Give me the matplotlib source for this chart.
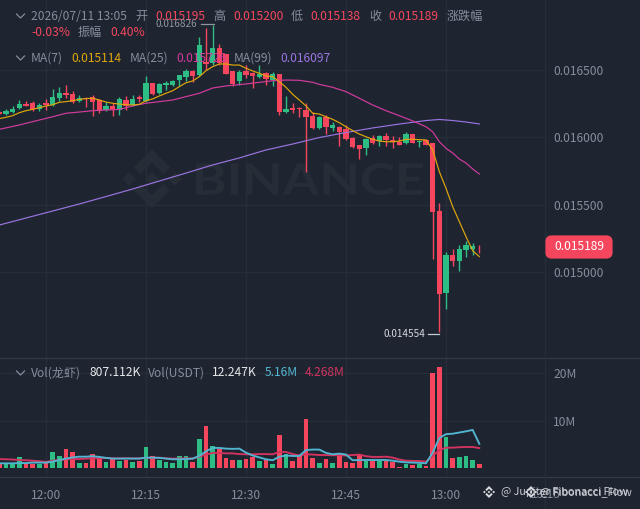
import numpy as np
import matplotlib
matplotlib.use("Agg")
import matplotlib.pyplot as plt
from matplotlib.patches import FancyBboxPatch, Polygon, PathPatch, Rectangle
from matplotlib.textpath import TextPath
from matplotlib.font_manager import FontProperties
from matplotlib.transforms import Affine2D

plt.rcParams['font.family'] = ['Noto Sans CJK SC', 'DejaVu Sans']

# minutes after 12:00, prices in millionths
minutes = list(range(-7, 66))
opens = [16185,16170,16187,16215,16244,16250,16207,16252,16239,16289,16324,16319,16267,16287,16296,16272,16200,16230,16202,16274,16237,16294,16269,16398,16324,16387,16385,16420,16447,16491,16459,16556,16546,16662,16613,16489,16415,16489,16472,16444,16472,16422,16467,16188,16215,16217,16200,16156,16065,16146,16069,16072,16057,15993,15943,15916,15993,15970,16007,15978,15965,15953,16022,15961,15978,15953,15452,14842,15126,15082,15163,15168,15195]
highs = [16196,16210,16230,16274,16267,16269,16250,16282,16353,16368,16385,16341,16311,16299,16311,16279,16257,16250,16299,16304,16311,16314,16454,16402,16398,16413,16422,16462,16504,16496,16744,16807,16826,16687,16615,16489,16496,16533,16484,16533,16484,16479,16467,16304,16250,16222,16250,16187,16156,16163,16113,16082,16089,15998,15943,15993,16015,16013,16027,16007,15998,16037,16022,15978,15987,15956,15513,15150,15170,15202,15232,15213,15200]
lows = [16163,16161,16180,16205,16230,16195,16190,16200,16232,16269,16289,16250,16257,16220,16158,16180,16190,16158,16163,16200,16230,16259,16262,16309,16319,16348,16378,16378,16413,16410,16452,16496,16533,16533,16463,16380,16385,16439,16365,16435,16385,16380,16163,16178,16176,16146,15741,16059,16059,16022,16042,15933,15978,15919,15837,15869,15948,15933,15933,15919,15939,15948,15953,15928,15939,15099,14554,14726,15047,15010,15109,15126,15138]
closes = [16170,16195,16210,16247,16232,16205,16237,16237,16296,16328,16311,16257,16289,16279,16262,16190,16230,16198,16279,16230,16282,16279,16402,16316,16395,16402,16415,16457,16491,16452,16685,16541,16662,16546,16465,16390,16484,16459,16454,16464,16430,16467,16183,16210,16202,16205,16148,16065,16150,16072,16089,16037,15985,15924,15913,15987,15958,16007,15978,15963,15943,16022,15958,15973,15943,15447,14837,15126,15084,15168,15198,15195,15189]

ma7 = [16136,16146,16158,16180,16195,16205,16217,16230,16239,16257,16262,16269,16279,16284,16287,16274,16259,16250,16244,16239,16237,16242,16269,16282,16304,16324,16343,16373,16402,16415,16447,16491,16521,16541,16541,16533,16533,16509,16489,16472,16452,16447,16410,16368,16316,16274,16230,16176,16170,16150,16131,16106,16076,16047,16022,16002,15983,15970,15965,15965,15970,15983,15983,15980,15978,15904,15743,15620,15484,15373,15262,15158,15114]
ma25_minutes = [-7,-4,-1,1,3,5,7,9,11,13,15,17,19,21,23,25,27,28,30,32,34,36,38,40,41,43,45,47,49,51,53,55,57,58,59,60,61,62,63,64,65]
ma25 = [16057,16089,16126,16150,16176,16185,16195,16200,16204,16230,16250,16262,16274,16299,16324,16363,16378,16383,16393,16405,16417,16422,16420,16405,16390,16368,16336,16287,16237,16195,16158,16119,16076,16039,15965,15916,15882,15837,15807,15763,15726]
ma99_minutes = [-7,-3,1,5,9,13,17,21,25,29,33,37,41,45,49,53,57,59,61,63,65]
ma99 = [15348,15400,15452,15504,15559,15615,15674,15733,15793,15845,15904,15948,15996,16033,16067,16096,16122,16130,16122,16111,16097]

# volume in millions
volume = [1.0,0.9,0.9,2.3,1.05,0.9,0.9,1.2,3.4,2.5,4.1,3.45,1.2,1.2,3.1,2.0,1.3,2.0,1.6,1.75,1.4,1.6,4.4,2.7,1.7,1.3,1.1,2.5,2.5,1.4,6.1,9.0,4.6,4.0,2.25,1.8,1.8,2.0,2.4,1.6,1.8,1.0,7.0,3.0,1.6,2.6,10.4,2.2,1.1,1.9,1.1,3.0,1.4,1.1,2.8,1.55,1.55,1.6,1.55,1.4,0.35,0.9,0.7,1.0,0.5,20.1,21.4,6.5,2.2,2.4,2.5,1.8,0.9]
vol_ma_fast = [1.05,1.05,1.05,1.1,1.1,1.2,1.2,1.2,1.4,1.75,2.05,2.3,2.45,2.45,2.55,2.4,2.2,2.05,2.05,2.05,2.05,2.05,2.25,2.25,2.2,2.05,1.9,1.9,1.95,2.05,2.6,3.6,4.3,4.3,4.15,4.1,4.15,3.3,2.7,2.3,1.9,1.7,2.45,2.7,2.6,2.6,3.85,3.95,3.95,3.25,2.95,3.1,2.9,1.7,1.75,1.75,1.75,1.75,1.75,1.6,1.4,1.25,1.2,1.15,1.05,3.3,6.4,7.2,7.3,7.55,7.8,8.1,5.16]
vol_ma_slow = [1.95,1.9,1.85,1.75,1.7,1.6,1.5,1.35,1.6,1.75,1.9,1.95,1.95,2.05,2.1,2.1,2.2,2.1,2.1,2.1,2.1,2.1,2.2,2.2,2.25,2.1,2.05,2.05,2.1,2.05,2.45,2.9,3.25,3.25,3.15,3.15,3.0,2.95,2.95,3.0,3.0,2.95,3.45,3.45,3.0,2.7,2.95,2.9,2.8,2.8,2.75,2.75,2.7,2.8,2.9,2.55,2.4,2.4,2.45,2.25,1.85,1.6,1.55,1.55,1.4,2.6,3.85,4.35,4.35,4.45,4.5,4.5,4.268]

time_ticks = [0, 15, 30, 45, 60]
time_labels = ['12:00', '12:15', '12:30', '12:45', '13:00']
price_ticks = [15000, 15500, 16000, 16500]
price_labels = ['0.015000', '0.015500', '0.016000', '0.016500']
vol_ticks = [10, 20]
vol_labels = ['10M', '20M']

BG = '#1e2530'
GRID = '#272e39'
SEP = '#343b47'
RED = '#f6465d'
GREEN = '#2ebd85'
GRAY = '#848e9c'
YEL = '#e0a60c'
MAG = '#d43b9e'
PUR = '#9a74e0'
CYAN = '#52b6d2'
VRED = '#d3335f'
WM = '#272d37'
FS = 8.7

W, H = 640, 509
fig = plt.figure(figsize=(W / 100, H / 100), dpi=100, facecolor=BG)

def px_axes(x0, y0, x1, y1, z):
    return fig.add_axes([x0 / W, 1 - y1 / H, (x1 - x0) / W, (y1 - y0) / H], zorder=z)

bg = px_axes(0, 0, W, H, 0)
bg.set_xlim(0, W); bg.set_ylim(H, 0); bg.axis('off')

# watermark
wm_points = {
    'top': [(38.73,53.2),(63.31,28.63),(87.9,53.22),(102.2,38.92),(63.31,0),(24.42,38.9)],
    'bot': [(38.73,73.4),(63.31,98.0),(87.9,73.4),(102.2,87.7),(63.31,126.61),(24.42,87.7)],
    'l': [(0,63.31),(14.3,49),(28.6,63.31),(14.3,77.6)],
    'r': [(98,63.31),(112.3,49),(126.61,63.31),(112.3,77.6)],
    'c': [(63.31,48.8),(77.8,63.31),(63.31,77.8),(48.8,63.31)],
}
def logo(ax, cx, cy, size, color, z=1):
    s = size / 126.61
    for pts in wm_points.values():
        ax.add_patch(Polygon([(cx + (a - 63.31) * s, cy + (b - 63.31) * s) for a, b in pts],
                             closed=True, fc=color, ec='none', zorder=z))
logo(bg, 152, 179, 59, WM)
tp = TextPath((0, 0), 'BINANCE', size=40, prop=FontProperties(family='Lato', weight='bold'))
bb = tp.get_extents()
tr = Affine2D().translate(-bb.x0, -bb.y0).scale(227 / bb.width, -32 / bb.height).translate(196, 195)
bg.add_patch(PathPatch(tr.transform_path(tp), fc=WM, ec='none', zorder=1))

# price panel
ax = px_axes(0, 0, 545, 357, 1)
ax.patch.set_alpha(0)
xlim = (-6.9, 74.85)
ax.set_xlim(*xlim)
ax.set_ylim(14370.5, 17014.8)
m = np.array(minutes, float)
o, h, l, c = map(np.array, (opens, highs, lows, closes))
colors = [GREEN if ci > oi else RED for oi, ci in zip(o, c)]
ax.vlines(m, l, h, colors=colors, lw=1.0, zorder=3)
ax.bar(m, np.maximum(np.abs(c - o), 5), bottom=np.minimum(o, c), width=0.78, color=colors, zorder=3, lw=0)
ax.plot(ma99_minutes, ma99, color=PUR, lw=0.85, zorder=4)
ax.plot(ma25_minutes, ma25, color=MAG, lw=0.85, zorder=4)
ax.plot(minutes, ma7, color=YEL, lw=0.85, zorder=5)
ax.set_yticks(price_ticks, price_labels)
ax.set_xticks(time_ticks, [])

# volume panel
vx = px_axes(0, 357, 545, 477, 1)
vx.patch.set_alpha(0)
vx.set_xlim(*xlim)
vx.set_ylim(-1.835, 23.48)
vx.bar(m, volume, width=0.72, color=colors, zorder=3, lw=0)
vx.plot(minutes, vol_ma_slow, color=VRED, lw=1.35, zorder=4)
vx.plot(minutes, vol_ma_fast, color=CYAN, lw=1.35, zorder=5)
vx.set_yticks(vol_ticks, vol_labels)
vx.set_xticks(time_ticks, time_labels)

for a in (ax, vx):
    a.grid(True, color=GRID, lw=0.9, zorder=0)
    a.set_axisbelow(True)
    a.yaxis.tick_right()
    a.tick_params(axis='both', length=0, colors=GRAY, labelsize=FS)
    a.tick_params(axis='y', pad=5.8)
    a.tick_params(axis='x', pad=8.5)
    for s in a.spines.values():
        s.set_visible(False)

# overlay in pixels
ov = px_axes(0, 0, W, H, 5)
ov.set_xlim(0, W); ov.set_ylim(H, 0); ov.axis('off')
ov.patch.set_alpha(0)

# panel separators
ov.plot([0, W], [357.5, 357.5], color=SEP, lw=0.9, zorder=1)
ov.plot([0, W], [477, 477], color=SEP, lw=0.9, zorder=1)
ov.plot([545, 545], [0, H], color=GRID, lw=0.9, zorder=1)

def T(x, y, s, color=GRAY, size=FS, ha='left', alpha=None):
    return ov.text(x, y, s, color=color, fontsize=size, ha=ha, va='center', alpha=alpha)

def chevron(y):
    ov.plot([16.5, 20.5, 24.5], [y - 2, y + 2, y - 2], color=GRAY, lw=0.9)

chevron(16); chevron(58); chevron(373)
T(31, 16, '2026/07/11 13:05')
T(135, 16, '开'); T(155, 16, '0.015195', RED)
T(213, 16, '高'); T(233, 16, '0.015200', RED)
T(291, 16, '低'); T(310, 16, '0.015138', RED)
T(369, 16, '收'); T(388, 16, '0.015189', RED)
T(447, 16, '涨跌幅')
T(31, 32, '-0.03%', RED); T(78, 32, '振幅'); T(110, 32, '0.40%', RED)
T(31, 58, 'MA(7)'); T(71, 58, '0.015114', YEL)
T(130, 58, 'MA(25)'); T(176, 58, '0.015726', MAG)
T(234, 58, 'MA(99)'); T(280, 58, '0.016097', PUR)
T(31, 373, 'Vol(龙虾)'); T(89, 373, '807.112K', '#e6e8ea')
T(148, 373, 'Vol(USDT)'); T(212, 373, '12.247K', '#e6e8ea')
T(265, 373, '5.16M', CYAN); T(305, 373, '4.268M', VRED)

T(156, 24, '0.016826', '#8f959e', 7.2)
ov.plot([201, 214], [24, 24], color='#8f959e', lw=0.9)
T(383, 334, '0.014554', '#d5d8dc', 7.2)
ov.plot([428, 439], [334, 334], color='#c8ccd0', lw=0.9)

ov.add_patch(FancyBboxPatch((547.5, 237.5), 63, 19, boxstyle='round,pad=0,rounding_size=4',
                            mutation_aspect=1, fc=RED, ec=RED, lw=3, zorder=6))
ov.text(579, 246.5, '0.015189', color='white', fontsize=FS, ha='center', va='center', zorder=7)

t = T(546, 494, '13:15', ha='center')
t.set_clip_path(Rectangle((0, 478), 545, 31, transform=ov.transData))

logo(ov, 489, 492, 12, '#d8dadd', 6)
logo(ov, 531, 492, 12, '#d8dadd', 6)
T(501, 492, '@ Jupiter Fibonacci Flow', '#c8ccd0', 7.8)
T(540, 492, '@ Fibonacci_Flow', '#c8ccd0', 7.8)

fig.savefig('out.png', dpi=100, facecolor=BG)
